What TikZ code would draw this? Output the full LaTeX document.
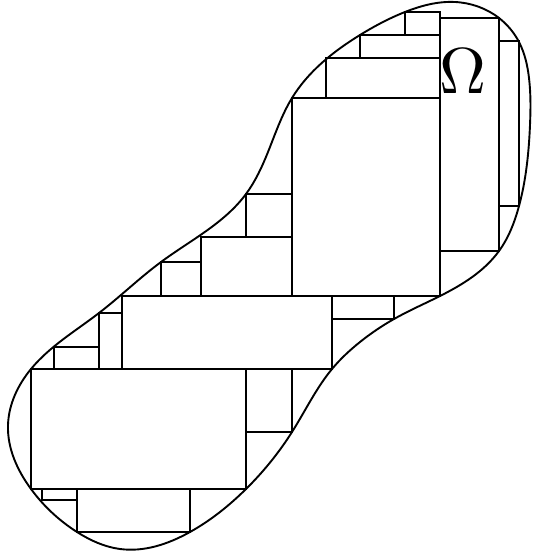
\documentclass[tikz,border=0pt]{standalone}
\usetikzlibrary{hobby}
\begin{document}
\begin{tikzpicture}[x=1pt,y=-1pt,
  box/.style={line width=1.9pt},
  bound/.style={line width=1.9pt}]
\useasboundingbox (0,0) rectangle (532,556);
\draw[bound] plot[closed hobby] coordinates {
 (455,2) (499,18) (519,42) (529,78) (530,125) (519,206) (499,251)
 (440,296) (394,319) (360,342) (332,369) (292,432)
 (246,489) (190,532) (120,549) (77,532) (31,489) (8,425)
 (31,369) (99,313) (161,262) (246,194)
 (268,152) (292,98) (360,35) (405,12)};
\foreach \a/\b/\c/\d in {405/12/440/35, 360/35/440/58, 326/58/440/98,
  292/98/440/296, 440/18/499/251, 499/41/519/206, 246/194/292/237,
  201/237/292/296, 161/262/201/296, 122/296/332/369, 332/296/394/319,
  99/313/122/369, 54/347/99/369, 31/369/246/489, 246/369/292/432,
  42/489/77/500, 77/489/190/532}
  \draw[box] (\a,\b) rectangle (\c,\d);
\node (omega) at (463,71) {\scalebox{6.5}{$\Omega$}};
\end{tikzpicture}
\end{document}
